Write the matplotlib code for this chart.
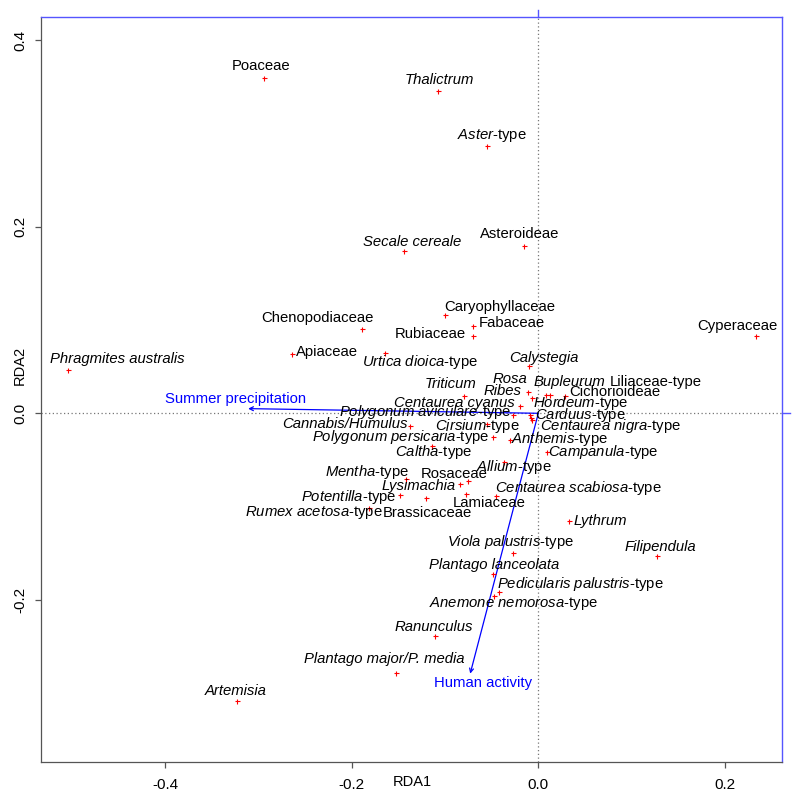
import matplotlib
matplotlib.use("Agg")
import matplotlib.pyplot as plt

plt.rcParams['font.family'] = ['Liberation Sans', 'DejaVu Sans']
plt.rcParams['mathtext.fontset'] = 'custom'
plt.rcParams['mathtext.rm'] = 'Liberation Sans'
plt.rcParams['mathtext.it'] = 'Liberation Sans:italic'
plt.rcParams['axes.unicode_minus'] = False

# species scores (RDA1, RDA2)
taxa = ['Poaceae', 'Thalictrum', 'Aster-type', 'Asteroideae', 'Secale cereale',
        'Chenopodiaceae', 'Caryophyllaceae', 'Fabaceae', 'Rubiaceae', 'Cyperaceae',
        'Apiaceae', 'Urtica dioica-type', 'Phragmites australis', 'Calystegia',
        'Triticum', 'Rosa', 'Ribes', 'Bupleurum', 'Liliaceae-type', 'Cichorioideae',
        'Centaurea cyanus', 'Polygonum aviculare-type', 'Hordeum-type', 'Carduus-type',
        'Centaurea nigra-type', 'Cirsium-type', 'Polygonum persicaria-type',
        'Anthemis-type', 'Campanula-type', 'Cannabis/Humulus', 'Caltha-type',
        'Allium-type', 'Mentha-type', 'Rosaceae', 'Lysimachia', 'Potentilla-type',
        'Brassicaceae', 'Lamiaceae', 'Centaurea scabiosa-type', 'Rumex acetosa-type',
        'Lythrum', 'Filipendula', 'Viola palustris-type', 'Plantago lanceolata',
        'Pedicularis palustris-type', 'Anemone nemorosa-type', 'Ranunculus',
        'Plantago major/P. media', 'Artemisia']
# part of each name set in italics
italic_part = ['', 'Thalictrum', 'Aster', '', 'Secale cereale',
               '', '', '', '', '',
               '', 'Urtica dioica', 'Phragmites australis', 'Calystegia',
               'Triticum', 'Rosa', 'Ribes', 'Bupleurum', '', '',
               'Centaurea cyanus', 'Polygonum aviculare', 'Hordeum', 'Carduus',
               'Centaurea nigra', 'Cirsium', 'Polygonum persicaria',
               'Anthemis', 'Campanula', 'Cannabis/Humulus', 'Caltha',
               'Allium', 'Mentha', '', 'Lysimachia', 'Potentilla',
               '', '', 'Centaurea scabiosa', 'Rumex acetosa',
               'Lythrum', 'Filipendula', 'Viola palustris', 'Plantago lanceolata',
               'Pedicularis palustris', 'Anemone nemorosa', 'Ranunculus',
               'Plantago major/P. media', 'Artemisia']
rda1 = [-0.294, -0.107, -0.055, -0.015, -0.144,
        -0.189, -0.100, -0.070, -0.070, 0.233,
        -0.264, -0.164, -0.504, -0.010,
        -0.080, -0.011, -0.007, 0.008, 0.013, 0.029,
        -0.020, -0.027, -0.009, -0.008,
        -0.007, -0.055, -0.049,
        -0.030, 0.009, -0.137, -0.114,
        -0.037, -0.142, -0.075, -0.084, -0.148,
        -0.120, -0.078, -0.045, -0.181,
        0.033, 0.127, -0.027, -0.049,
        -0.042, -0.047, -0.111,
        -0.153, -0.323]
rda2 = [0.359, 0.345, 0.287, 0.179, 0.174,
        0.090, 0.105, 0.094, 0.083, 0.083,
        0.064, 0.065, 0.046, 0.051,
        0.018, 0.023, 0.016, 0.020, 0.020, 0.019,
        0.008, -0.002, -0.002, -0.005,
        -0.007, -0.012, -0.025,
        -0.029, -0.042, -0.014, -0.035,
        -0.052, -0.070, -0.073, -0.076, -0.088,
        -0.091, -0.087, -0.089, -0.101,
        -0.115, -0.153, -0.150, -0.172,
        -0.192, -0.196, -0.239,
        -0.278, -0.308]

# environmental arrows
env_names = ['Summer precipitation', 'Human activity']
env_rda1 = [-0.311, -0.073]
env_rda2 = [0.005, -0.279]

# label placement relative to point (pixels, right / up)
label_offsets = [(-3, 12), (1, 11), (5, 10), (-5, 12), (8, 9),
                 (-45, 11), (55, 8), (39, 3), (-43, 2), (-18, 10),
                 (35, 2), (35, -9), (49, 11), (15, 8),
                 (-13, 12), (-18, 13), (-29, 7), (24, 13), (105, 13), (49, 4),
                 (-65, 3), (-88, 3), (51, 12), (49, 3),
                 (79, -6), (-10, -2), (-92, 0),
                 (49, 1), (57, 0), (-66, 2), (2, -6),
                 (10, -5), (-39, 7), (-14, 7), (-41, -2), (-51, -2),
                 (1, -15), (24, -9), (82, 8), (-56, -5),
                 (31, 0), (4, 9), (-3, 11), (2, 9),
                 (81, 8), (19, -7), (-1, 9),
                 (-11, 14), (-1, 10)]
env_label_pos = [(-0.325, 0.015), (-0.059, -0.289)]


def make_label(name, ital):
    if ital == '':
        return name, 'normal'
    if ital == name:
        return name, 'italic'
    rest = name[len(ital):]
    return '$\\mathit{' + ital.replace(' ', '\\ ') + '}$' + rest, 'normal'


fig = plt.figure(figsize=(8, 7.97), dpi=100)
ax = fig.add_axes([40.8 / 800, 1 - 761.7 / 797, 741.6 / 800, 744.4 / 797])
ax.set_xlim(-0.5332, 0.2616)
ax.set_ylim(-0.3734, 0.4244)

ax.axhline(0, color='#777777', lw=0.9, ls=(0, (1, 2)), zorder=1)
ax.axvline(0, color='#777777', lw=0.9, ls=(0, (1, 2)), zorder=1)

for i in range(len(taxa)):
    ax.plot(rda1[i], rda2[i], '+', color='red', ms=3.6, mew=0.8, zorder=3)
    txt, st = make_label(taxa[i], italic_part[i])
    ax.annotate(txt, (rda1[i], rda2[i]), xytext=label_offsets[i],
                textcoords='offset pixels', ha='center', va='center',
                fontsize=10.7, style=st, color='black', zorder=4)

for i in range(len(env_names)):
    ax.annotate('', xy=(env_rda1[i], env_rda2[i]), xytext=(0, 0),
                arrowprops=dict(arrowstyle='->', color='blue', lw=0.9,
                                shrinkA=0, shrinkB=0, mutation_scale=7),
                zorder=2)
    ax.text(env_label_pos[i][0], env_label_pos[i][1], env_names[i],
            color='blue', fontsize=10.7, ha='center', va='center')

for s in ['left', 'bottom']:
    ax.spines[s].set_color('#555555')
    ax.spines[s].set_linewidth(0.9)
for s in ['top', 'right']:
    ax.spines[s].set_color('#5555ff')
    ax.spines[s].set_linewidth(1.0)

# single blue ticks at zero on the top and right axes
ax.plot([0, 0], [1, 1 + 7 / 744], color='#5555ff', lw=1.0,
        transform=ax.get_xaxis_transform(), clip_on=False)
ax.plot([1, 1 + 8 / 742], [0, 0], color='#5555ff', lw=1.0,
        transform=ax.get_yaxis_transform(), clip_on=False)

xt = [-0.4, -0.2, 0.0, 0.2]
yt = [-0.2, 0.0, 0.2, 0.4]
ax.set_xticks(xt)
ax.set_xticklabels([f"{v:.1f}" for v in xt])
ax.set_yticks(yt)
ax.set_yticklabels([f"{v:.1f}" for v in yt], rotation=90, va='center')
ax.tick_params(axis='both', direction='out', length=4.5, width=0.9,
               color='#555555', labelsize=11)
ax.tick_params(axis='x', pad=7)
ax.tick_params(axis='y', pad=5)

fig.text(412 / 800, 1 - 782 / 797, 'RDA1', ha='center', va='center', fontsize=10.5)
fig.text(20 / 800, 1 - 365 / 797, 'RDA2', ha='center', va='center',
         fontsize=10.5, rotation=90)

fig.savefig('out.png', dpi=100)
